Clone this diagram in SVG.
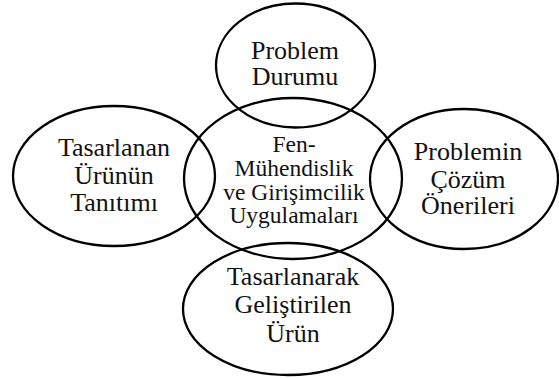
<svg xmlns="http://www.w3.org/2000/svg" width="559" height="378" viewBox="0 0 559 378">
<style>
.e{fill:none;stroke:#000;stroke-width:2.3}
.t{font-family:"Liberation Serif","Times New Roman",serif;font-size:26px;fill:#111;text-anchor:middle}
.c{font-size:23.5px}
</style>
<rect width="559" height="378" fill="#fff"/>
<g id="connectors"></g>
<g id="top">
<ellipse class="e" cx="295.5" cy="65.5" rx="79.5" ry="62"/>
<text class="t" x="295" y="59">Problem</text>
<text class="t" x="295" y="85">Durumu</text>
</g>
<g id="center">
<ellipse class="e" cx="293" cy="178.5" rx="109" ry="80.5"/>
<text class="t c" x="294" y="152">Fen-</text>
<text class="t c" x="294" y="176">Mühendislik</text>
<text class="t c" x="294" y="200">ve Girişimcilik</text>
<text class="t c" x="294" y="223">Uygulamaları</text>
</g>
<g id="left">
<ellipse class="e" cx="114" cy="176" rx="101" ry="70"/>
<text class="t" x="114" y="156">Tasarlanan</text>
<text class="t" x="114" y="184">Ürünün</text>
<text class="t" x="114" y="211">Tanıtımı</text>
</g>
<g id="right">
<ellipse class="e" cx="464" cy="179" rx="94" ry="70"/>
<text class="t" x="468" y="160">Problemin</text>
<text class="t" x="468" y="188">Çözüm</text>
<text class="t" x="468" y="214">Önerileri</text>
</g>
<g id="bottom">
<ellipse class="e" cx="288" cy="309" rx="105" ry="66"/>
<text class="t" x="293" y="285">Tasarlanarak</text>
<text class="t" x="293" y="313">Geliştirilen</text>
<text class="t" x="293" y="342">Ürün</text>
</g>
</svg>
